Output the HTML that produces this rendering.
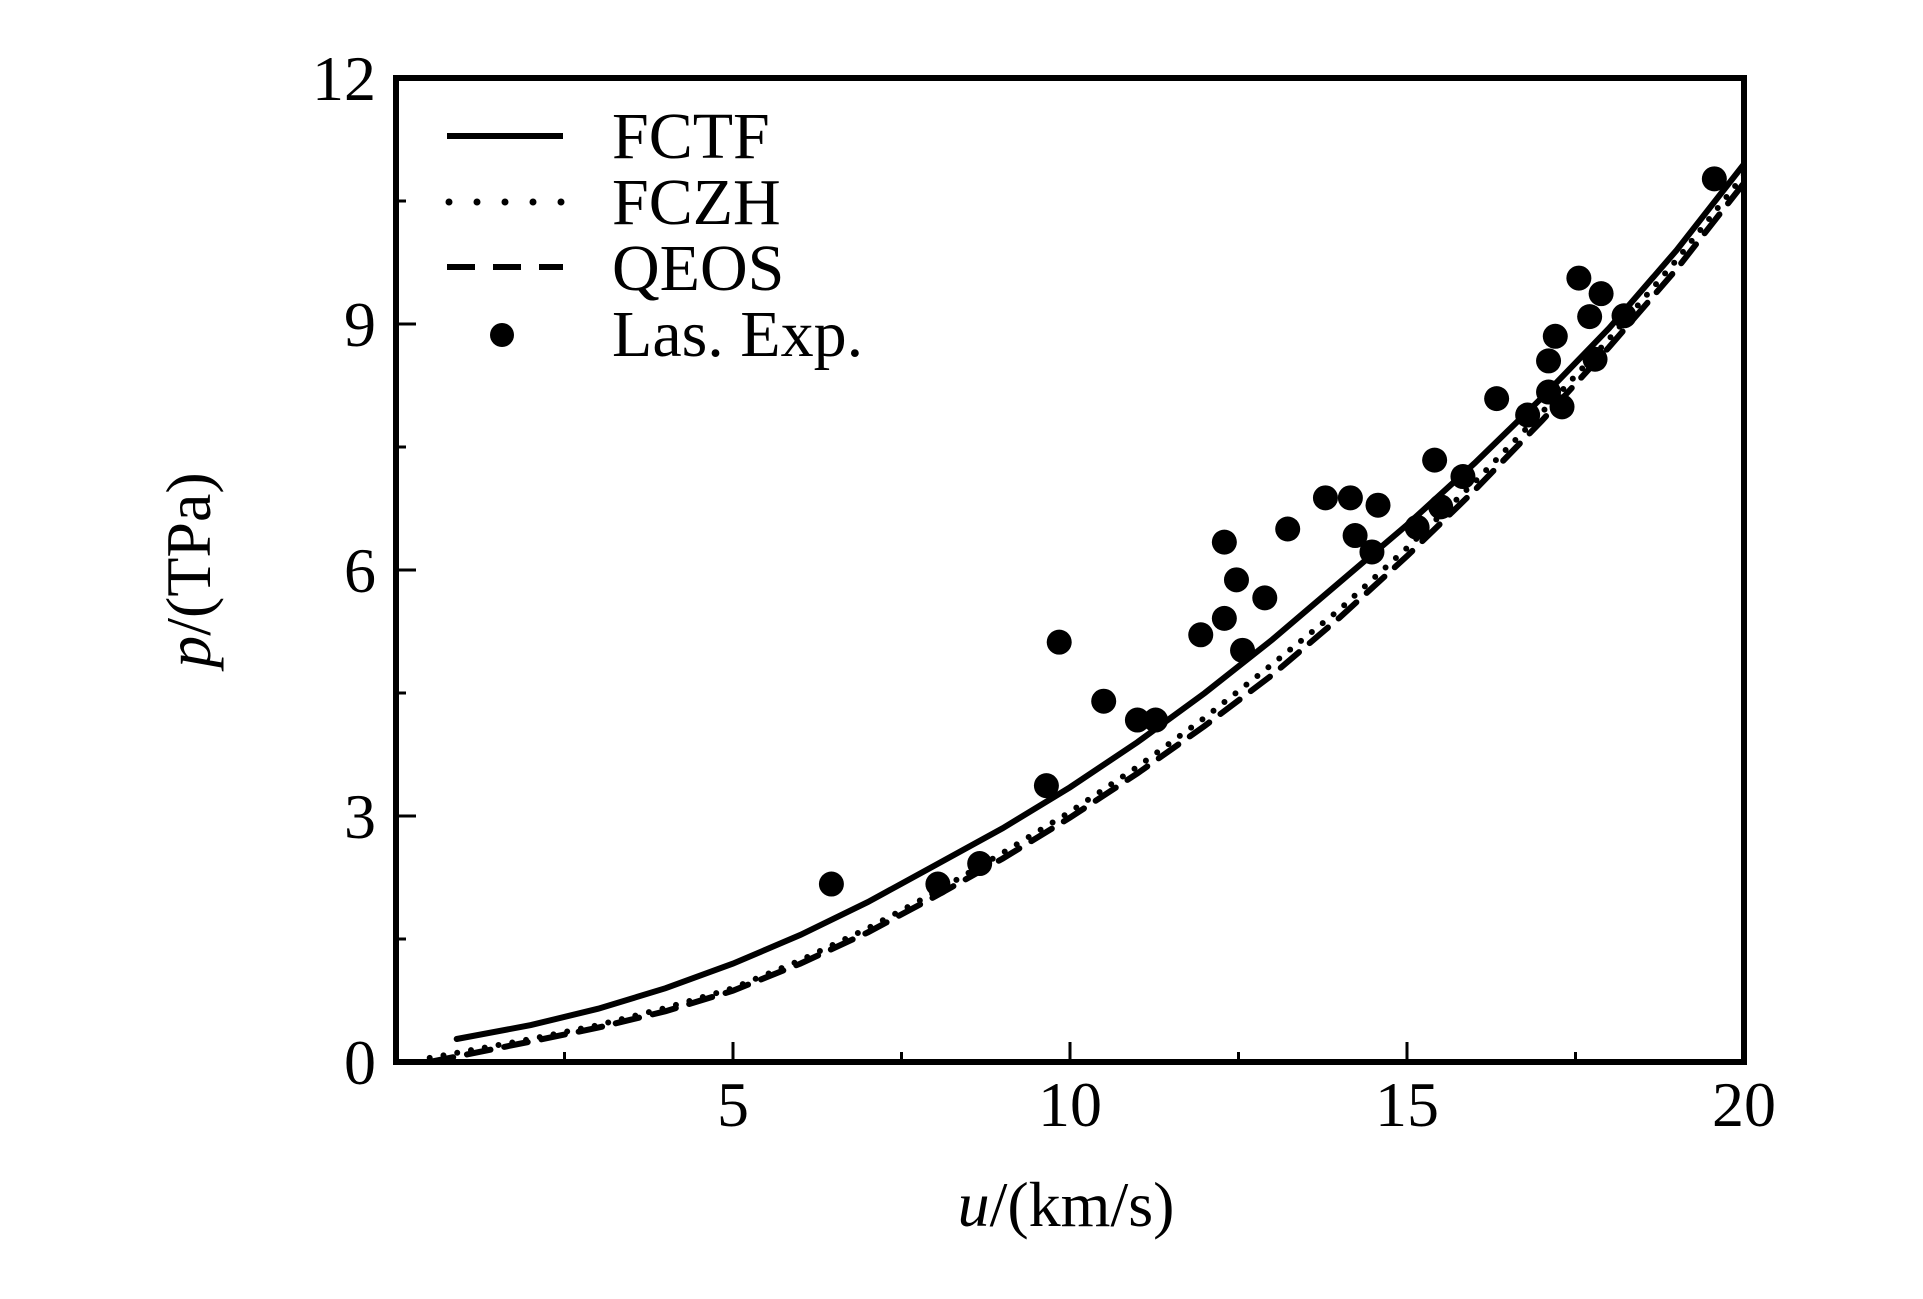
<!DOCTYPE html>
<html><head><meta charset="utf-8"><style>
html,body{margin:0;padding:0;background:#fff;}
svg{display:block;font-family:"Liberation Serif",serif;}
</style></head><body>
<svg id="chart" width="1923" height="1299" viewBox="0 0 1923 1299">
<g id="marks"></g>
<g id="axes"></g>
<g id="legend">
 <line x1="447" y1="136" x2="563" y2="136" stroke="#000" stroke-width="6"/>
 <text x="612" y="158" font-size="66">FCTF</text>
 <line x1="449" y1="202" x2="563" y2="202" stroke="#000" stroke-width="7" stroke-dasharray="0 28" stroke-linecap="round"/>
 <text x="612" y="224" font-size="66">FCZH</text>
 <line x1="447" y1="267" x2="563" y2="267" stroke="#000" stroke-width="6" stroke-dasharray="28 18"/>
 <text x="612" y="290" font-size="66">QEOS</text>
 <circle cx="502" cy="335" r="12" fill="#000"/>
 <text x="612" y="356" font-size="66">Las. Exp.</text>
</g>
<text x="1066" y="1226" font-size="64" text-anchor="middle"><tspan font-style="italic">u</tspan>/(km/s)</text>
<text transform="translate(210,570) rotate(-90)" font-size="64" text-anchor="middle"><tspan font-style="italic">p</tspan>/(TPa)</text>
</svg>
<script>
const xTicks=[5,10,15,20];
const xTickLabels=["5","10","15","20"];
const yTicks=[0,3,6,9,12];
const yTickLabels=["0","3","6","9","12"];
const expU=[6.46,8.04,8.66,9.65,9.84,10.5,11.0,11.27,11.94,12.29,12.29,12.47,12.56,12.89,13.23,13.79,14.16,14.23,14.48,14.57,15.15,15.41,15.5,15.83,16.33,16.79,17.1,17.1,17.2,17.3,17.55,17.71,17.79,17.88,18.22,19.56];
const expP=[2.17,2.17,2.42,3.37,5.12,4.4,4.17,4.17,5.21,5.41,6.34,5.88,5.02,5.66,6.5,6.88,6.88,6.42,6.22,6.79,6.52,7.34,6.77,7.14,8.09,7.89,8.17,8.55,8.85,7.99,9.56,9.09,8.57,9.37,9.1,10.77];
const fctfU=[0.9,2,3,4,5,6,7,8,9,10,11,12,13,14,15,16,17,18,19,20];
const fctfP=[0.28,0.45,0.65,0.9,1.2,1.55,1.95,2.4,2.85,3.35,3.9,4.5,5.15,5.85,6.55,7.3,8.1,8.95,9.9,10.95];
const fczhU=[0.5,2,3,4,5,6,7,8,9,10,11,12,13,14,15,16,17,18,19,20];
const fczhP=[0.05,0.28,0.45,0.66,0.9,1.24,1.63,2.07,2.55,3.05,3.6,4.2,4.85,5.52,6.27,7.07,7.92,8.82,9.78,10.82];
const qeosU=[0.5,2,3,4,5,6,7,8,9,10,11,12,13,14,15,16,17,18,19,20];
const qeosP=[0.0,0.25,0.42,0.62,0.87,1.2,1.58,2.02,2.48,2.98,3.52,4.1,4.72,5.42,6.17,6.97,7.82,8.72,9.67,10.72];

const X0=396,X1=1744,Y0=1062,Y1=78;
const xs=u=>X0+(u/20)*(X1-X0);
const ys=p=>Y0-(p/12)*(Y0-Y1);
const NS="http://www.w3.org/2000/svg";
const marks=document.getElementById('marks');
const axes=document.getElementById('axes');
function mk(tag,attrs,parent){const e=document.createElementNS(NS,tag);for(const k in attrs)e.setAttribute(k,attrs[k]);parent.appendChild(e);return e;}

function curve(U,P,dash,name,w){
  let d='';
  for(let i=0;i<U.length;i++){d+=(i?'L':'M')+xs(U[i]).toFixed(1)+','+ys(P[i]).toFixed(1);}
  const el=mk('path',{d:d,fill:'none',stroke:'#000','stroke-width':w,'stroke-linecap':'round','stroke-dasharray':dash},marks);
  
  
}
curve(fctfU,fctfP,'none','fctf-line',6);
curve(fczhU,fczhP,'0 14','fczh-line',6);
curve(qeosU,qeosP,'24 14','qeos-line',6);
for(let i=0;i<expU.length;i++){
  const c=mk('circle',{cx:xs(expU[i]),cy:ys(expP[i]),r:12.5,fill:'#000'},marks);
  
  
}
const frame=mk('rect',{x:X0,y:Y1,width:X1-X0,height:Y0-Y1,fill:'none',stroke:'#000','stroke-width':6},axes);


for(let v=2.5;v<20;v+=2.5){
  const major=(v%5===0);
  const t=mk('line',{x1:xs(v),x2:xs(v),y1:Y0,y2:Y0-(major?20:10),stroke:'#000','stroke-width':3},axes);
  
  
}
for(let v=1.5;v<12;v+=1.5){
  const major=(v%3===0);
  const t=mk('line',{x1:X0,x2:X0+(major?20:10),y1:ys(v),y2:ys(v),stroke:'#000','stroke-width':3},axes);
  
  
}
xTicks.forEach((v,i)=>{
  const t=mk('text',{x:xs(v),y:1126,'font-size':64,'text-anchor':'middle'},axes);
  t.textContent=xTickLabels[i];
  
  
});
yTicks.forEach((v,i)=>{
  const t=mk('text',{x:376,y:ys(v)+22,'font-size':64,'text-anchor':'end'},axes);
  t.textContent=yTickLabels[i];
  
  
});
</script>
</body></html>
